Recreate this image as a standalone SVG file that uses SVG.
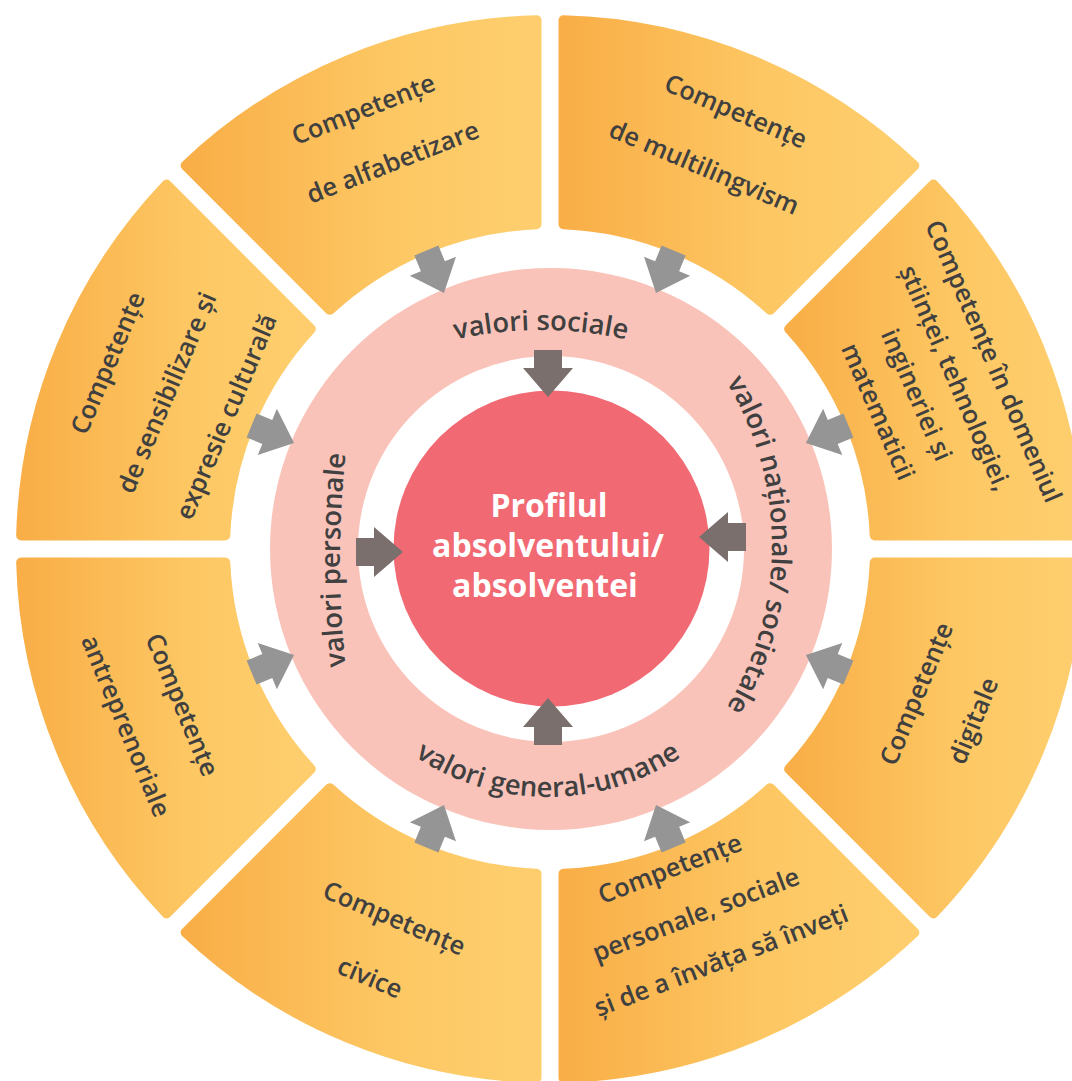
<svg xmlns="http://www.w3.org/2000/svg" width="1072" height="1081" viewBox="0 0 1072 1081">
<style>
.seg{fill:url(#og);stroke:url(#og);stroke-width:10;stroke-linejoin:round}
.ot{font-family:"Open Sans","Noto Sans",sans-serif;font-size:25.4px;font-weight:600;fill:#404040;text-anchor:middle}
.rl{font-family:"Open Sans","Noto Sans",sans-serif;font-size:27.4px;font-weight:600;fill:#404040}
.ct{font-family:"Open Sans","Noto Sans",sans-serif;font-size:32px;font-weight:bold;fill:#ffffff;text-anchor:middle}
.ao{fill:#959595}
.ai{fill:#7A6F6C}
</style>
<defs>
<linearGradient id="og" x1="0" y1="0" x2="1" y2="0">
<stop offset="0" stop-color="#F9AE47"/>
<stop offset="0.6" stop-color="#FDC864"/>
<stop offset="1" stop-color="#FECE6E"/>
</linearGradient>
<polygon id="arrO" points="0,-13 17,-13 17,-25 46,0 17,25 17,13 0,13"/>
<polygon id="arrI" points="0,-14 18,-14 18,-25 47,0 18,25 18,14 0,14"/>
<path id="pTop" d="M296.7 418.9 A380 380 0 0 1 785.3 418.9"/>
<path id="pRight" d="M698.5 343.2 A314 314 0 0 1 698.5 746.8"/>
<path id="pBottom" d="M340.2 677 A240 240 0 0 0 755.8 677"/>
<path id="pLeft" d="M349.7 699.2 A1000 1000 0 0 1 349.7 420.8"/>
</defs>
<rect width="1072" height="1081" fill="#ffffff"/>

<g id="seg-multilingvism">
<path class="seg" d="M563.5 20.17 A529 529 0 0 1 914.39 165.51 L770.06 309.84 A325 325 0 0 0 563.5 224.28 Z"/>
<text class="ot" transform="translate(732.3 119.4) rotate(23)"><tspan x="0" y="0">Competențe</tspan><tspan x="-7" y="64">de multilingvism</tspan></text>
</g>
<g id="seg-stiinte">
<path class="seg" d="M933.49 184.61 A529 529 0 0 1 1078.83 535.5 L874.72 535.5 A325 325 0 0 0 789.16 328.94 Z"/>
<text class="ot" transform="translate(985.6 364.8) rotate(66.5)"><tspan x="0" y="0">Competențe în domeniul</tspan><tspan x="0" y="42">științei, tehnologiei,</tspan><tspan x="0" y="84">ingineriei și</tspan><tspan x="0" y="126">matematicii</tspan></text>
</g>
<g id="seg-digitale">
<path class="seg" d="M1078.83 562.5 A529 529 0 0 1 933.49 913.39 L789.16 769.06 A325 325 0 0 0 874.72 562.5 Z"/>
<text class="ot" transform="translate(924.5 697.2) rotate(-67.5)"><tspan x="0" y="0">Competențe</tspan><tspan x="-3" y="63">digitale</tspan></text>
</g>
<g id="seg-personale">
<path class="seg" d="M914.39 932.49 A529 529 0 0 1 563.5 1077.83 L563.5 873.72 A325 325 0 0 0 770.06 788.16 Z"/>
<text class="ot" transform="translate(673 877) rotate(-21)"><tspan x="0" y="0">Competențe</tspan><tspan x="8" y="52">personale, sociale</tspan><tspan x="15" y="104">și de a învăța să înveți</tspan></text>
</g>
<g id="seg-civice">
<path class="seg" d="M536.5 1077.83 A529 529 0 0 1 185.61 932.49 L329.94 788.16 A325 325 0 0 0 536.5 873.72 Z"/>
<text class="ot" transform="translate(390.8 926.4) rotate(23)"><tspan x="0" y="0">Competențe</tspan><tspan x="1" y="64">civice</tspan></text>
</g>
<g id="seg-antreprenoriale">
<path class="seg" d="M166.51 913.39 A529 529 0 0 1 21.17 562.5 L225.28 562.5 A325 325 0 0 0 310.84 769.06 Z"/>
<text class="ot" transform="translate(174 708.2) rotate(67.5)"><tspan x="0" y="0">Competențe</tspan><tspan x="-2" y="60">antreprenoriale</tspan></text>
</g>
<g id="seg-sensibilizare">
<path class="seg" d="M21.17 535.5 A529 529 0 0 1 166.51 184.61 L310.84 328.94 A325 325 0 0 0 225.28 535.5 Z"/>
<text class="ot" transform="translate(115.8 366.5) rotate(-67)"><tspan x="0" y="0">Competențe</tspan><tspan x="-4" y="66">de sensibilizare și</tspan><tspan x="-3" y="130">expresie culturală</tspan></text>
</g>
<g id="seg-alfabetizare">
<path class="seg" d="M185.61 165.51 A529 529 0 0 1 536.5 20.17 L536.5 224.28 A325 325 0 0 0 329.94 309.84 Z"/>
<text class="ot" transform="translate(366.6 117.5) rotate(-21.5)"><tspan x="0" y="0">Competențe</tspan><tspan x="8" y="60">de alfabetizare</tspan></text>
</g>

<g id="ring-valori">
<circle cx="551" cy="549" r="281" fill="#FAC3B9"/>
<circle cx="551" cy="549" r="193" fill="#ffffff"/>
<text class="rl"><textPath href="#pTop" startOffset="50%" text-anchor="middle">valori sociale</textPath></text>
<text class="rl"><textPath href="#pRight" startOffset="50%" text-anchor="middle">valori naționale/ societale</textPath></text>
<text class="rl"><textPath href="#pBottom" startOffset="50%" text-anchor="middle">valori general-umane</textPath></text>
<text class="rl"><textPath href="#pLeft" startOffset="50%" text-anchor="middle">valori personale</textPath></text>
</g>

<g id="center-profil">
<circle cx="551.5" cy="548.5" r="158" fill="#F16A73"/>
<text class="ct"><tspan x="549" y="517">Profilul</tspan><tspan x="548" y="557">absolventului/</tspan><tspan x="545" y="597">absolventei</tspan></text>
</g>

<g id="connectors">
<use href="#arrO" class="ao" transform="translate(550 549) rotate(22.5) translate(0 -323) rotate(90)"/>
<use href="#arrO" class="ao" transform="translate(550 549) rotate(67.5) translate(0 -323) rotate(90)"/>
<use href="#arrO" class="ao" transform="translate(550 549) rotate(112.5) translate(0 -323) rotate(90)"/>
<use href="#arrO" class="ao" transform="translate(550 549) rotate(157.5) translate(0 -323) rotate(90)"/>
<use href="#arrO" class="ao" transform="translate(550 549) rotate(202.5) translate(0 -323) rotate(90)"/>
<use href="#arrO" class="ao" transform="translate(550 549) rotate(247.5) translate(0 -323) rotate(90)"/>
<use href="#arrO" class="ao" transform="translate(550 549) rotate(292.5) translate(0 -323) rotate(90)"/>
<use href="#arrO" class="ao" transform="translate(550 549) rotate(337.5) translate(0 -323) rotate(90)"/>
<use href="#arrI" class="ai" transform="translate(548 350) rotate(90)"/>
<use href="#arrI" class="ai" transform="translate(548 745) rotate(-90)"/>
<use href="#arrI" class="ai" transform="translate(356 552)"/>
<use href="#arrI" class="ai" transform="translate(746 537) rotate(180)"/>
</g>
</svg>
